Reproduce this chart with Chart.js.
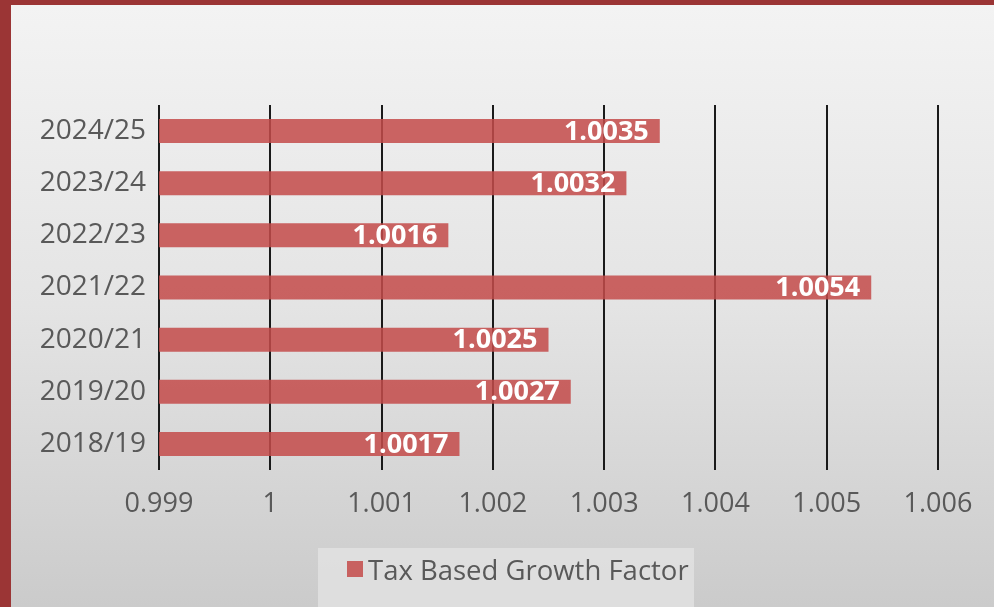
<!DOCTYPE html>
<html lang="en">
  <head>
    <meta charset="UTF-8" />
    <title>Tax Based Growth Factor</title>
    <script src="https://cdn.jsdelivr.net/npm/chart.js"></script>
    <style>
      html, body { margin: 0; padding: 0; }
      #frame {
        width: 983px;
        height: 602px;
        border-left: 11px solid #9b3535;
        border-top: 5px solid #9b3535;
        background: linear-gradient(to bottom, #f3f3f3 0%, #e4e4e4 50%, #cbcbcb 100%);
        position: relative;
      }
      #chart { display: block; }
    </style>
  </head>
  <body>
    <div id="frame">
      <canvas id="chart" width="983" height="602"></canvas>
    </div>
    <script>
      const years = ["2018/19", "2019/20", "2020/21", "2021/22", "2022/23", "2023/24", "2024/25"];
      const growthFactor = [1.0017, 1.0027, 1.0025, 1.0054, 1.0016, 1.0032, 1.0035];
      const tickMin = 0.999;
      const tickMax = 1.006;
      const seriesName = "Tax Based Growth Factor";
      const barColor = "rgba(196,76,74,0.86)";

      const FONT = "'Open Sans', sans-serif";

      // white value labels at the inner end of each bar
      const valueLabels = {
        id: "valueLabels",
        afterDatasetsDraw(chart) {
          const ctx = chart.ctx;
          const meta = chart.getDatasetMeta(0);
          ctx.save();
          ctx.font = "bold 27px " + FONT;
          ctx.fillStyle = "#ffffff";
          ctx.textAlign = "right";
          ctx.textBaseline = "middle";
          meta.data.forEach((bar, i) => {
            ctx.fillText(growthFactor[i].toFixed(4), bar.x - 11, bar.y + 1);
          });
          ctx.restore();
        },
      };

      // legend in its own lighter box, off-centre like the original
      const boxedLegend = {
        id: "boxedLegend",
        afterDraw(chart) {
          const ctx = chart.ctx;
          ctx.save();
          ctx.fillStyle = "rgba(230,230,230,0.7)";
          ctx.fillRect(307, 543, 376, 60);
          ctx.fillStyle = barColor;
          ctx.fillRect(336, 556, 16, 16);
          ctx.font = "27.5px " + FONT;
          ctx.fillStyle = "#595959";
          ctx.textAlign = "left";
          ctx.textBaseline = "middle";
          ctx.fillText(chart.data.datasets[0].label, 357, 567);
          ctx.restore();
        },
      };

      new Chart(document.getElementById("chart"), {
        type: "bar",
        data: {
          labels: years,
          datasets: [
            {
              label: seriesName,
              data: growthFactor,
              backgroundColor: barColor,
              borderWidth: 0,
              barPercentage: 0.92,
              categoryPercentage: 0.5,
            },
          ],
        },
        options: {
          indexAxis: "y",
          responsive: false,
          animation: false,
          layout: { padding: { top: 100, right: 0, left: 0, bottom: 60 } },
          scales: {
            x: {
              min: tickMin,
              max: tickMax,
              border: { display: false },
              grid: { color: "#1a1a1a", lineWidth: 2, drawTicks: false },
              ticks: {
                stepSize: 0.001,
                padding: 18,
                color: "#595959",
                font: { family: FONT, size: 27 },
                callback: (v) => parseFloat(v.toFixed(3)).toString(),
              },
              afterFit(scale) {
                scale.height = 77;
                scale.paddingRight = 56;
              },
            },
            y: {
              reverse: true,
              border: { display: false },
              grid: { display: false, drawTicks: false },
              ticks: {
                padding: 13,
                color: "#595959",
                font: { family: FONT, size: 28 },
              },
              afterFit(scale) { scale.width = 148; },
            },
          },
          plugins: {
            legend: { display: false },
            tooltip: { enabled: false },
          },
        },
        plugins: [valueLabels, boxedLegend],
      });
    </script>
  </body>
</html>
